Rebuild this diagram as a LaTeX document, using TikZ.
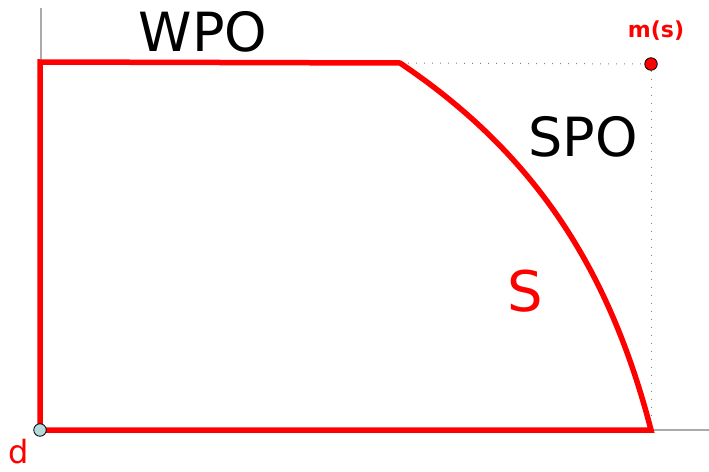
\documentclass[tikz,border=0pt]{standalone}
\usepackage{fontspec}
\setmainfont{DejaVu Sans}
\definecolor{gred}{RGB}{255,0,0}
\definecolor{gaxis}{RGB}{170,170,170}
\definecolor{gdot}{RGB}{180,218,222}
\begin{document}
\begin{tikzpicture}[x=1pt,y=-1pt,
  axis/.style={draw=gaxis,line width=1.2pt},
  guide/.style={draw=gray,line width=1pt,dash pattern=on 0.8pt off 7.2pt},
  region/.style={draw=gred,line width=5.5pt,line join=miter},
  bigtext/.style={font=\fontsize{54}{60}\selectfont,inner sep=0pt},
  pt/.style={circle,draw=black,line width=0.8pt,minimum size=12.5pt,inner sep=0pt}]
\useasboundingbox (0,0) rectangle (709,471);
\coordinate (O) at (40,430);
\coordinate (ytop) at (41,8);
\coordinate (xend) at (709,430);
\coordinate (A) at (40,62);
\coordinate (B) at (400,63);
\coordinate (C) at (651,430);
\draw[axis] (41,430) -- (ytop);
\draw[axis] (O) -- (xend);
\node[pt,fill=gred] (m) at (651,64) {};
\draw[guide] (B) -- (m);
\draw[guide] (m) -- (C);
\draw[region] (O) -- (A) -- (B) .. controls (537,155) and (610,272) .. (C) -- cycle;
\node[pt,fill=gdot] (d) at (O) {};
\node[bigtext] (wpo) at (203,32) {WPO};
\node[bigtext] (spo) at (583,137) {SPO};
\node[font=\fontsize{56}{60}\selectfont,inner sep=0pt,text=gred] (s) at (525.5,291) {S};
\node[font=\fontsize{22}{24}\selectfont\bfseries,text=gred,inner sep=0pt] (ms) at (656,31) {m(s)};
\node[font=\fontsize{32}{34}\selectfont,text=gred,inner sep=0pt] (dl) at (19,452) {d};
\end{tikzpicture}
\end{document}
